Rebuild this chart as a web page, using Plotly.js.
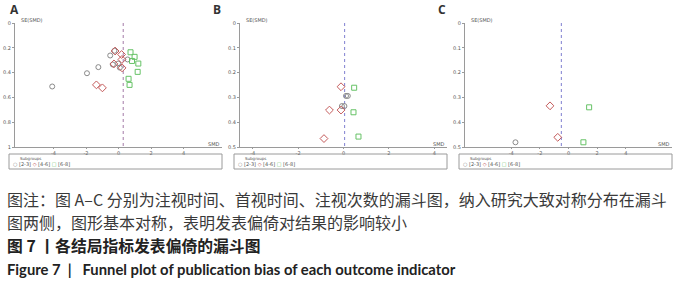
<!DOCTYPE html>
<html>
<head>
<meta charset="utf-8">
<script src="https://cdn.plot.ly/plotly-3.0.1.min.js"></script>
<style>
html,body{margin:0;padding:0;background:#fff;}
#chart{width:700px;height:281px;}
</style>
</head>
<body>
<div id="chart"></div>
<script>
// ---- data ----
const subgroupLabels = ['[2-3]', '[4-6]', '[6-8]'];
const panelLabels = ['A', 'B', 'C'];

// Panel A: effect (SMD) and SE
const aGreyX = [-4.08, -1.94, -1.24, -0.51, -0.25, 0.56, -0.02, -0.35, 0.08];
const aGreyY = [0.512, 0.405, 0.356, 0.262, 0.224, 0.294, 0.327, 0.335, 0.36];
const aRedX = [-1.36, -0.99, -0.21, 0.19, 0.21, -0.28, 0.22];
const aRedY = [0.499, 0.523, 0.226, 0.254, 0.294, 0.33, 0.362];
const aGreenX = [0.74, 0.99, 0.83, 1.22, 1.18, 0.62, 0.68];
const aGreenY = [0.236, 0.273, 0.306, 0.327, 0.394, 0.45, 0.499];

// Panel B
const bGreyX = [0.11, 0.19, -0.07, 0.04];
const bGreyY = [0.294, 0.294, 0.335, 0.335];
const bRedX = [-0.11, -0.62, -0.11, -0.86];
const bRedY = [0.257, 0.351, 0.351, 0.466];
const bGreenX = [0.47, 0.44, 0.66];
const bGreenY = [0.261, 0.36, 0.458];

// Panel C
const cGreyX = [-3.70];
const cGreyY = [0.481];
const cRedX = [-1.29, -0.75];
const cRedY = [0.334, 0.461];
const cGreenX = [1.44, 1.04];
const cGreenY = [0.34, 0.481];

// pooled effect (dashed reference line) and axis settings per panel
const pooledEffect = [0.29, 0.05, -0.5];
const seMax = [1, 0.5, 0.5];
const seTicks = [[0, 0.2, 0.4, 0.6, 0.8, 1], [0, 0.1, 0.2, 0.3, 0.4, 0.5], [0, 0.1, 0.2, 0.3, 0.4, 0.5]];
const xHalfRange = [6.37, 4.56, 7.22];
const xTicks = [-4, -2, 0, 2, 4];

const captionLines = [
  '图注：图 A–C 分别为注视时间、首视时间、注视次数的漏斗图，纳入研究大致对称分布在漏斗',
  '图两侧，图形基本对称，表明发表偏倚对结果的影响较小',
  '图 7 丨各结局指标发表偏倚的漏斗图',
  'Figure 7&nbsp;&nbsp;|&nbsp;&nbsp;&nbsp;Funnel plot of publication bias of each outcome indicator'
];

// ---- styling ----
const W = 700, H = 281;
const colGrey = '#8a8a8a', colRed = '#c45a5a', colGreen = '#66c266';
const lineCols = ['#a37aa8', '#7f7fd0', '#7f7fd0'];
const px = X => X / W;
const py = Y => 1 - Y / H;
const panelLeft = [15, 240, 465];
const panelRight = [222, 447, 672];
const plotTop = 23, plotBottom = 147;

const groups = [
  [[aGreyX, aGreyY], [aRedX, aRedY], [aGreenX, aGreenY]],
  [[bGreyX, bGreyY], [bRedX, bRedY], [bGreenX, bGreenY]],
  [[cGreyX, cGreyY], [cRedX, cRedY], [cGreenX, cGreenY]]
];
const symbols = ['circle-open', 'diamond-open', 'square-open'];
const cols = [colGrey, colRed, colGreen];

const traces = [];
const layout = {
  width: W, height: H,
  margin: {l: 0, r: 0, t: 0, b: 0},
  paper_bgcolor: '#fff', plot_bgcolor: '#fff',
  showlegend: false,
  annotations: [], shapes: []
};

for (let p = 0; p < 3; p++) {
  const xa = p === 0 ? 'x' : 'x' + (p + 1);
  const ya = p === 0 ? 'y' : 'y' + (p + 1);
  const xk = p === 0 ? 'xaxis' : 'xaxis' + (p + 1);
  const yk = p === 0 ? 'yaxis' : 'yaxis' + (p + 1);
  // dashed pooled-effect line
  traces.push({
    x: [pooledEffect[p], pooledEffect[p]], y: [0, seMax[p]],
    xaxis: xa, yaxis: ya, mode: 'lines', hoverinfo: 'skip',
    line: {color: lineCols[p], width: 1, dash: 'dot'}
  });
  for (let g = 0; g < 3; g++) {
    traces.push({
      x: groups[p][g][0], y: groups[p][g][1],
      xaxis: xa, yaxis: ya, mode: 'markers', name: subgroupLabels[g],
      marker: {symbol: symbols[g], size: g === 1 ? 6 : 5, color: cols[g], line: {width: 1, color: cols[g]}}
    });
  }
  layout[xk] = {
    domain: [px(panelLeft[p]), px(panelRight[p])],
    anchor: ya, range: [-xHalfRange[p], xHalfRange[p]],
    tickvals: xTicks, ticktext: xTicks.map(String),
    showgrid: false, zeroline: false, showline: true, linecolor: '#9a9a9a', linewidth: 1,
    ticks: 'outside', ticklen: 1, tickcolor: '#9a9a9a',
    tickfont: {size: 5, color: '#555', family: 'DejaVu Sans'}
  };
  layout[yk] = {
    domain: [py(plotBottom), py(plotTop)],
    anchor: xa, range: [seMax[p], 0],
    tickvals: seTicks[p], ticktext: seTicks[p].map(String),
    showgrid: false, zeroline: false, showline: true, linecolor: '#9a9a9a', linewidth: 1,
    ticks: 'outside', ticklen: 2, tickcolor: '#9a9a9a',
    tickfont: {size: 5, color: '#555', family: 'DejaVu Sans'}
  };
  // axis titles
  layout.annotations.push({
    xref: 'paper', yref: 'paper', x: px(panelLeft[p] + 4), y: py(20),
    xanchor: 'left', yanchor: 'middle', showarrow: false,
    text: 'SE(SMD)', font: {size: 5, color: '#555', family: 'DejaVu Sans'}
  });
  layout.annotations.push({
    xref: 'paper', yref: 'paper', x: px(panelRight[p] - 1), y: py(143.5),
    xanchor: 'right', yanchor: 'middle', showarrow: false,
    text: 'SMD', font: {size: 5, color: '#555', family: 'DejaVu Sans'}
  });
  // panel label
  const labX = [14, 217, 442][p];
  layout.annotations.push({
    xref: 'paper', yref: 'paper', x: px(labX), y: py(10),
    xanchor: 'center', yanchor: 'middle', showarrow: false,
    text: '<b>' + panelLabels[p] + '</b>', font: {size: 12, color: '#333', family: 'Open Sans'}
  });
  // legend box
  const boxL = panelLeft[p] - 6, boxR = panelRight[p];
  layout.shapes.push({
    type: 'rect', xref: 'paper', yref: 'paper',
    x0: px(boxL), x1: px(boxR), y0: py(169), y1: py(154),
    line: {color: '#9a9a9a', width: 1}
  });
  layout.annotations.push({
    xref: 'paper', yref: 'paper', x: px(boxL + 9), y: py(158),
    xanchor: 'left', yanchor: 'middle', showarrow: false,
    text: 'Subgroups', font: {size: 4, color: '#555', family: 'DejaVu Sans'}
  });
  layout.annotations.push({
    xref: 'paper', yref: 'paper', x: px(boxL + 2), y: py(164),
    xanchor: 'left', yanchor: 'middle', showarrow: false,
    text: '<span style="color:' + colGrey + '">○</span> ' + subgroupLabels[0] +
          ' <span style="color:' + colRed + '">◇</span> ' + subgroupLabels[1] +
          ' <span style="color:' + colGreen + '">□</span> ' + subgroupLabels[2],
    font: {size: 5, color: '#555', family: 'DejaVu Sans'}
  });
}

// caption
const capY = [198.5, 222, 245.5, 268.5];
const capFont = [
  {size: 16, color: '#3a3a3a', family: 'Noto Sans CJK SC'},
  {size: 16, color: '#3a3a3a', family: 'Noto Sans CJK SC'},
  {size: 15.8, color: '#222', family: 'Noto Sans CJK SC'},
  {size: 14.8, color: '#222', family: 'Lato'}
];
captionLines.forEach((t, i) => {
  layout.annotations.push({
    xref: 'paper', yref: 'paper', x: px(5), y: py(capY[i]),
    xanchor: 'left', yanchor: 'middle', showarrow: false,
    text: i >= 2 ? '<b>' + t + '</b>' : t, font: capFont[i]
  });
});

Plotly.newPlot('chart', traces, layout, {staticPlot: true, displayModeBar: false});
</script>
</body>
</html>
